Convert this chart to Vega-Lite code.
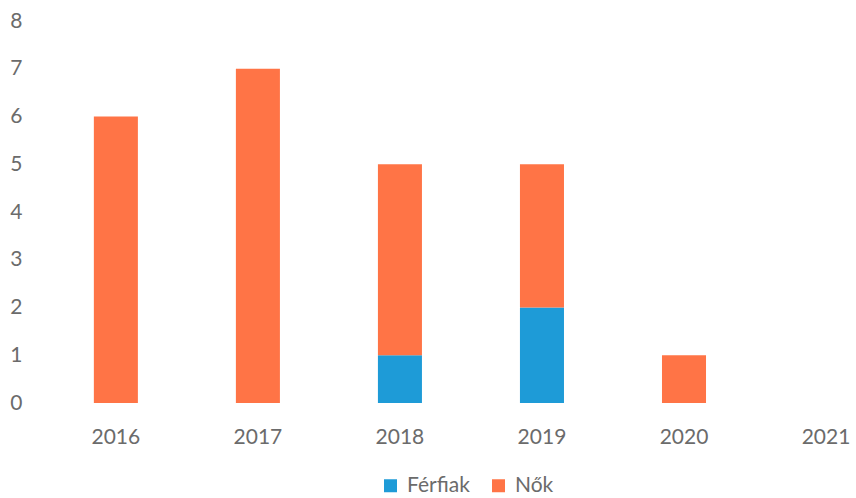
{
  "$schema": "https://vega.github.io/schema/vega-lite/v6.json",
  "autosize": {"type": "none"},
  "padding": {"left": 45, "top": 21, "right": 0, "bottom": 95},
  "width": 811,
  "height": 382,
  "background": "white",
  "data": {
    "values": [
      {"ev": "2016", "nem": "Férfiak", "db": 0},
      {"ev": "2016", "nem": "Nők", "db": 6},
      {"ev": "2017", "nem": "Férfiak", "db": 0},
      {"ev": "2017", "nem": "Nők", "db": 7},
      {"ev": "2018", "nem": "Férfiak", "db": 1},
      {"ev": "2018", "nem": "Nők", "db": 4},
      {"ev": "2019", "nem": "Férfiak", "db": 2},
      {"ev": "2019", "nem": "Nők", "db": 3},
      {"ev": "2020", "nem": "Férfiak", "db": 0},
      {"ev": "2020", "nem": "Nők", "db": 1},
      {"ev": "2021", "nem": "Férfiak", "db": 0},
      {"ev": "2021", "nem": "Nők", "db": 0}
    ]
  },
  "mark": {"type": "bar"},
  "encoding": {
    "x": {
      "field": "ev",
      "type": "ordinal",
      "scale": {"paddingInner": 0.69, "paddingOuter": 0.2, "align": 0.86, "round": false},
      "axis": {
        "title": null,
        "labelAngle": 0,
        "domain": false,
        "ticks": false,
        "labelPadding": 23,
        "labelFont": "Lato",
        "labelFontSize": 21,
        "labelColor": "#6b6b6b"
      }
    },
    "y": {
      "field": "db",
      "type": "quantitative",
      "stack": "zero",
      "scale": {"domain": [0, 8], "nice": false},
      "axis": {
        "title": null,
        "values": [0, 1, 2, 3, 4, 5, 6, 7, 8],
        "grid": false,
        "domain": false,
        "ticks": false,
        "labelPadding": 23,
        "labelFont": "Lato",
        "labelFontSize": 21,
        "labelColor": "#6b6b6b"
      }
    },
    "color": {
      "field": "nem",
      "type": "nominal",
      "scale": {"domain": ["Férfiak", "Nők"], "range": ["#1E9BD7", "#FF7446"]},
      "legend": {
        "title": null,
        "orient": "none",
        "direction": "horizontal",
        "legendX": 335,
        "legendY": 454,
        "symbolType": "square",
        "symbolSize": 169,
        "symbolStrokeWidth": 0,
        "symbolOpacity": 1,
        "labelFont": "Lato",
        "labelFontSize": 21,
        "labelColor": "#6b6b6b",
        "labelOffset": 6,
        "columnPadding": 18
      }
    },
    "order": {"field": "nem", "sort": "ascending"}
  },
  "config": {"view": {"stroke": null}}
}
